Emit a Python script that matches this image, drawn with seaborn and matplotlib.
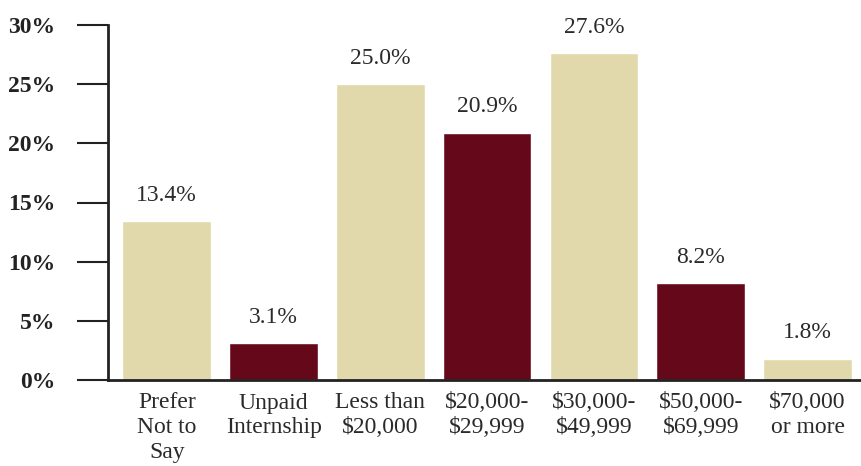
import matplotlib
matplotlib.use("Agg")
import matplotlib.pyplot as plt
import seaborn as sns
import pandas as pd

# data
categories = ["Prefer\nNot to\nSay", "Unpaid\nInternship", "Less than\n$20,000",
              "$20,000-\n$29,999", "$30,000-\n$49,999", "$50,000-\n$69,999",
              "$70,000\nor more"]
percent = [13.4, 3.1, 25.0, 20.9, 27.6, 8.2, 1.8]
y_ticks = [0, 5, 10, 15, 20, 25, 30]

beige = "#E1D9AB"
maroon = "#65091A"
bar_colors = [beige, maroon, beige, maroon, beige, maroon, beige]

df = pd.DataFrame({"category": categories, "percent": percent})

sns.set_style("white")
plt.rcParams["font.family"] = ["Liberation Serif", "DejaVu Serif"]

fig = plt.figure(figsize=(8.61, 4.66), dpi=100)
ax = fig.add_axes([108 / 861, 1 - 380 / 466, 1 - 108 / 861, (380 - 25) / 466])

sns.barplot(data=df, x="category", y="percent", hue="category",
            palette=bar_colors, legend=False, width=0.83, saturation=1, ax=ax)

# value labels above the bars
for i, v in enumerate(percent):
    ax.text(i, v + 1.3, f"{v:.1f}%", ha="center", va="bottom",
            fontsize=17, color="#2a2a2a")

ax.set_xlim(-0.55, 6.5)
ax.set_ylim(0, 30)
ax.set_yticks(y_ticks)
ax.set_yticklabels([f"{t}%" for t in y_ticks], fontsize=17, fontweight="bold",
                   color="#222222")
ax.tick_params(axis="y", direction="out", length=22, width=1.5, color="#222222",
               left=True, pad=16)
ax.tick_params(axis="x", length=0, labelsize=17, labelcolor="#2a2a2a", pad=9)
ax.set_xlabel("")
ax.set_ylabel("")

for side in ["top", "right"]:
    ax.spines[side].set_visible(False)
for side in ["left", "bottom"]:
    ax.spines[side].set_color("#222222")
    ax.spines[side].set_linewidth(2)

for lab in ax.get_xticklabels():
    lab.set_linespacing(1.22)

fig.savefig("out.png", dpi=100)
